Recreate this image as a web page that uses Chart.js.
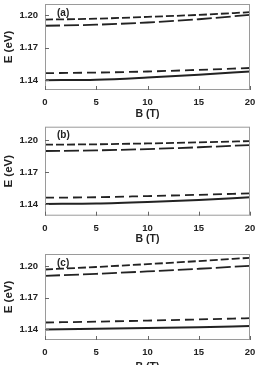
<!DOCTYPE html>
<html>
<head>
<meta charset="utf-8">
<script src="https://cdn.jsdelivr.net/npm/chart.js@4/dist/chart.umd.min.js"></script>
<style>
  body { margin: 0; background: #fff; overflow: hidden; }
  .panel { position: absolute; left: 0; width: 255px; }
</style>
</head>
<body>
<div class="panel" style="top:0;height:121px"><canvas id="chartA"></canvas></div>
<div class="panel" style="top:121px;height:125px"><canvas id="chartB"></canvas></div>
<div class="panel" style="top:246px;height:127px"><canvas id="chartC"></canvas></div>
<script>
// magnetic field (T)
const bField = [0, 5, 10, 15, 20];
const yTicks = [1.14, 1.17, 1.20];
const xTicks = [0, 5, 10, 15, 20];

// panel (a) energies (eV)
const solidA = [1.1400, 1.1405, 1.1425, 1.1450, 1.1480];
const lowDashA = [1.1465, 1.1470, 1.1480, 1.1495, 1.1512];
const topDashA = [1.1957, 1.1965, 1.1982, 1.2000, 1.2025];
const longDashA = [1.1900, 1.1910, 1.1930, 1.1960, 1.2000];

// panel (b)
const solidB = [1.1400, 1.1404, 1.1418, 1.1437, 1.1463];
const lowDashB = [1.1459, 1.1463, 1.1474, 1.1486, 1.1500];
const topDashB = [1.1956, 1.1960, 1.1968, 1.1978, 1.1990];
const longDashB = [1.1897, 1.1903, 1.1915, 1.1932, 1.1953];

// panel (c)
const solidC = [1.1400, 1.1406, 1.1414, 1.1422, 1.1432];
const lowDashC = [1.1466, 1.1474, 1.1484, 1.1495, 1.1507];
const topDashC = [1.1968, 1.1992, 1.2019, 1.2048, 1.2079];
const longDashC = [1.1908, 1.1927, 1.1950, 1.1975, 1.2003];

const ink = '#222';
const fam = '"Liberation Sans", Arial, sans-serif';

// frame + inward ticks + panel letter
const framePlugin = {
  id: 'frame',
  afterDraw(chart, args, opts) {
    const { ctx, chartArea: a, scales } = chart;
    ctx.save();
    ctx.strokeStyle = '#9a9a9a';
    ctx.lineWidth = 1;
    ctx.strokeRect(a.left + 0.5, a.top + 0.5, a.width - 1, a.height - 1);
    ctx.strokeStyle = '#666';
    ctx.beginPath();
    scales.y.ticks.forEach(t => {
      const y = Math.round(scales.y.getPixelForValue(t.value)) + 0.5;
      ctx.moveTo(a.left, y);
      ctx.lineTo(a.left + 4, y);
    });
    scales.x.ticks.forEach(t => {
      const x = Math.round(scales.x.getPixelForValue(t.value)) + 0.5;
      ctx.moveTo(x, a.bottom);
      ctx.lineTo(x, a.bottom - 4);
    });
    ctx.stroke();
    ctx.fillStyle = ink;
    ctx.font = 'bold 10px ' + fam;
    ctx.textBaseline = 'middle';
    ctx.fillText(opts.letter, a.left + 12, a.top + 9);
    ctx.restore();
  }
};

function makeChart(id, letter, series, yMin, yMax, top, axisH, tickPad, titlePad) {
  const ds = (data, dash, w) => ({
    data: data, borderColor: ink, borderWidth: w, borderDash: dash,
    pointRadius: 0, fill: false, cubicInterpolationMode: 'monotone'
  });
  new Chart(document.getElementById(id), {
    type: 'line',
    data: {
      labels: bField,
      datasets: [
        ds(series[0], [], 2),
        ds(series[1], [9, 5], 1.8),
        ds(series[2], [8, 3], 1.8),
        ds(series[3], [15, 4], 1.8)
      ]
    },
    options: {
      responsive: true,
      maintainAspectRatio: false,
      animation: false,
      layout: { padding: { top: top, right: 5, left: 0, bottom: 0 } },
      plugins: { legend: { display: false }, tooltip: { enabled: false }, frame: { letter: letter } },
      scales: {
        x: {
          type: 'linear', min: 0, max: 20,
          afterBuildTicks: s => { s.ticks = xTicks.map(v => ({ value: v })); },
          afterFit: s => { s.height = axisH; s.paddingLeft = 0; s.paddingRight = 0; },
          grid: { display: false, drawTicks: false },
          border: { display: false },
          ticks: { color: ink, padding: tickPad, maxRotation: 0, font: { family: fam, size: 9.5, weight: 'bold' } },
          title: { display: true, text: 'B (T)', color: ink, padding: { top: 0, bottom: titlePad }, font: { family: fam, size: 10.5, weight: 'bold' } }
        },
        y: {
          min: yMin, max: yMax,
          afterBuildTicks: s => { s.ticks = yTicks.map(v => ({ value: v })); },
          afterFit: s => { s.width = 45; s.paddingTop = 0; s.paddingBottom = 0; },
          grid: { display: false, drawTicks: false },
          border: { display: false },
          ticks: { color: ink, padding: 7, callback: v => v.toFixed(2), font: { family: fam, size: 9.5, weight: 'bold' } },
          title: { display: true, text: 'E (eV)', color: ink, padding: { top: 1.5, bottom: 0 }, font: { family: fam, size: 11.5, weight: 'bold' } }
        }
      }
    },
    plugins: [framePlugin]
  });
}

makeChart('chartA', '(a)', [solidA, lowDashA, topDashA, longDashA], 1.131, 1.210, 4, 31, 7, 1);
makeChart('chartB', '(b)', [solidB, lowDashB, topDashB, longDashB], 1.129, 1.2125, 5.7, 30.3, 7, 0.3);
makeChart('chartC', '(c)', [solidC, lowDashC, topDashC, longDashC], 1.130, 1.2115, 8, 33, 6.6, 0);
</script>
</body>
</html>
